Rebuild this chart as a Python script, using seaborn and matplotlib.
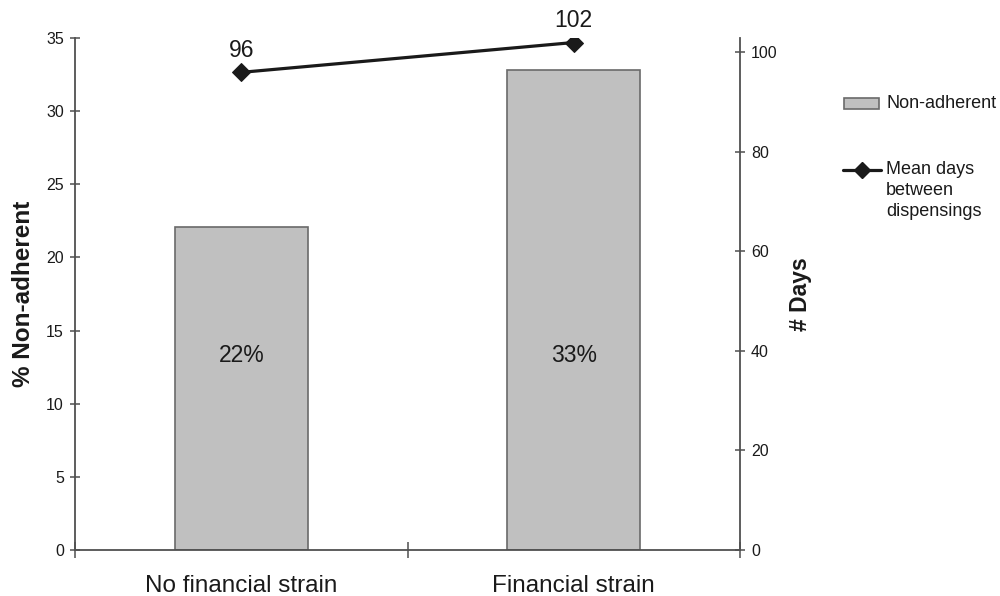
import matplotlib
matplotlib.use("Agg")
import matplotlib.pyplot as plt
from matplotlib.patches import Rectangle
from matplotlib.lines import Line2D
import numpy as np
import pandas as pd
import seaborn as sns

# Data
categories = ["No financial strain", "Financial strain"]
pct_non_adherent = [22.1, 32.8]
mean_days = [96, 102]
left_ticks = [0, 5, 10, 15, 20, 25, 30, 35]
right_ticks = [0, 20, 40, 60, 80, 100]

sns.set_theme(style="white")
plt.rcParams["font.family"] = ["Liberation Sans", "DejaVu Sans"]

axis_col = "#505050"
text_col = "#1a1a1a"

df = pd.DataFrame({"group": categories, "pct": pct_non_adherent, "days": mean_days})

fig = plt.figure(figsize=(10, 5.96), dpi=100)
ax = fig.add_axes([0.075, 0.0772, 0.665, 0.859])

sns.barplot(data=df, x="group", y="pct", ax=ax, color="#c0c0c0",
            edgecolor="#6a6a6a", linewidth=1.2, width=0.40, saturation=1)
ax.set_xlim(-0.5, 1.5)
ax.set_ylim(0, 35)
ax.set_yticks(left_ticks)
ax.set_xlabel("")
ax.set_ylabel("% Non-adherent", fontsize=17.5, fontweight="bold",
              color=text_col, labelpad=8)

# Percentage labels inside the bars
for i, v in enumerate(pct_non_adherent):
    ax.text(i, 13.3, f"{v:.0f}%", ha="center", va="center",
            fontsize=16.5, color=text_col)

# Secondary axis: mean days between dispensings
ax2 = ax.twinx()
xpos = np.arange(len(categories))
sns.lineplot(x=xpos, y=mean_days, ax=ax2, color="#1a1a1a", linewidth=2.3,
             marker="D", markersize=9, markeredgecolor="#1a1a1a")
ax2.set_ylim(0, 102.9)
ax2.set_yticks(right_ticks)
ax2.set_ylabel("# Days", fontsize=16.5, fontweight="bold", color=text_col,
               labelpad=8)
for i, v in enumerate(mean_days):
    ax2.annotate(f"{v}", (xpos[i], v), xytext=(0, 16), textcoords="offset points",
                 ha="center", va="center", fontsize=16.5, color=text_col)
ax2.set_xlim(-0.5, 1.5)

# Spines and ticks
for a in (ax, ax2):
    for s in a.spines.values():
        s.set_visible(False)
ax.spines["left"].set_visible(True)
ax.spines["bottom"].set_visible(True)
ax2.spines["right"].set_visible(True)
for a, side in ((ax, "left"), (ax, "bottom"), (ax2, "right")):
    a.spines[side].set_color(axis_col)
    a.spines[side].set_linewidth(1.3)

ax.tick_params(axis="y", direction="inout", length=7, width=1.1, color=axis_col,
               labelsize=11.5, labelcolor=text_col, pad=4.5, left=True)
ax2.tick_params(axis="y", direction="inout", length=7, width=1.1, color=axis_col,
                labelsize=11.5, labelcolor=text_col, pad=4.5, right=True)
ax.set_xticks([-0.5, 0.5, 1.5], minor=True)
ax.tick_params(axis="x", which="minor", direction="inout", length=11, width=1.1,
               color=axis_col, bottom=True)
ax.tick_params(axis="x", which="major", length=0, labelsize=17.5,
               labelcolor=text_col, pad=18)

# Legend drawn at the right of the plot
fig.patches.append(Rectangle((0.844, 1 - 109 / 596), 0.035, 11 / 596,
                             transform=fig.transFigure, facecolor="#c0c0c0",
                             edgecolor="#6a6a6a", linewidth=1.2))
fig.text(0.886, 1 - 104 / 596, "Non-adherent", fontsize=13, color=text_col,
         ha="left", va="center")
fig.lines.append(Line2D([0.843, 0.881], [1 - 170 / 596] * 2,
                        transform=fig.transFigure, color="#1a1a1a",
                        linewidth=2.3))
fig.lines.append(Line2D([0.862], [1 - 170 / 596], transform=fig.transFigure,
                        color="#1a1a1a", marker="D", markersize=8))
fig.text(0.886, 1 - 161 / 596, "Mean days\nbetween\ndispensings", fontsize=13,
         color=text_col, ha="left", va="top", linespacing=1.3)

fig.savefig("out.png", dpi=100)
